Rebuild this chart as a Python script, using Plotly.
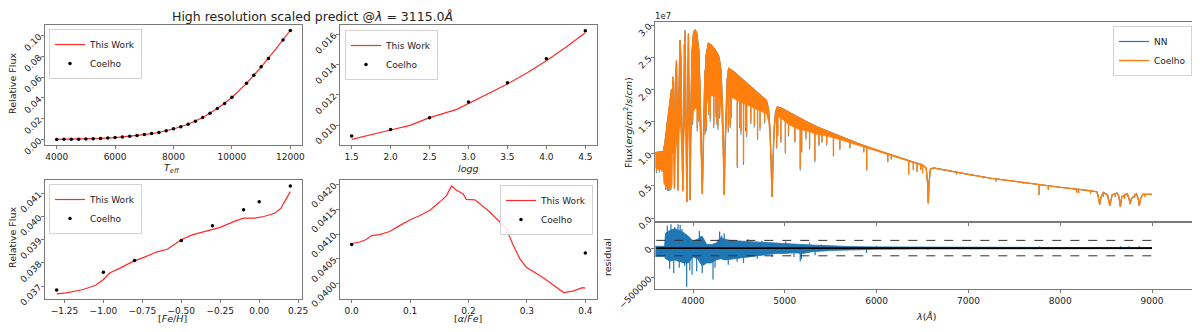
import plotly.graph_objects as go

W, H = 1200, 332
OFF = 8                      # page body margin in front of the plot div
FIG_W, FIG_H = W - OFF, H - OFF
FONT = "DejaVu Sans"
SPINE = "#7a7a7a"
TXT = "#222222"
RED = "#ff2a2a"
BLUE = "#1f77b4"
ORANGE = "#ff7f0e"

# ---------------------------------------------------------------------------
# Left panels: flux at 3115 A against each stellar parameter
# ---------------------------------------------------------------------------
teff_grid = [4000, 4250, 4500, 4750, 5000, 5250, 5500, 5750, 6000, 6250, 6500,
             6750, 7000, 7250, 7500, 7750, 8000, 8250, 8500, 8750, 9000, 9250,
             9500, 9750, 10000, 10500, 10750, 11000, 11250, 11750, 12000]
teff_coelho = [0.0001, 0.0002, 0.0003, 0.0004, 0.0006, 0.0008, 0.0011, 0.0015,
               0.0019, 0.0025, 0.0032, 0.0040, 0.0048, 0.0058, 0.0068, 0.0084,
               0.0103, 0.0123, 0.0148, 0.0177, 0.0213, 0.0252, 0.0300, 0.0348,
               0.0406, 0.0542, 0.0619, 0.0700, 0.0780, 0.0958, 0.1050]
teff_line_x = [4000, 4500, 5000, 5500, 6000, 6500, 7000, 7500, 8000, 8500,
               9000, 9500, 10000, 10500, 11000, 11500, 12000]
teff_line_y = [0.0001, 0.0003, 0.0006, 0.0011, 0.0019, 0.0032, 0.0048, 0.0068,
               0.0102, 0.0147, 0.0212, 0.0298, 0.0405, 0.0540, 0.0698, 0.0870,
               0.1052]

logg_grid = [1.5, 2.0, 2.5, 3.0, 3.5, 4.0, 4.5]
logg_coelho = [0.00927, 0.00971, 0.01049, 0.01152, 0.01280, 0.01439, 0.01624]
logg_line_x = [1.5, 1.75, 2.0, 2.25, 2.5, 2.85, 3.0, 3.25, 3.5, 3.75, 4.0, 4.25, 4.5]
logg_line_y = [0.00905, 0.00938, 0.00967, 0.00998, 0.01049, 0.01104, 0.01143,
               0.01205, 0.01272, 0.01345, 0.01426, 0.01515, 0.01611]

feh_grid = [-1.3, -1.0, -0.8, -0.5, -0.3, -0.1, 0.0, 0.2]
feh_coelho = [0.03684, 0.03760, 0.03811, 0.03897, 0.03960, 0.04029, 0.04063, 0.04131]
feh_line_x = [-1.3, -1.24, -1.13, -1.05, -1.0, -0.96, -0.89, -0.81, -0.74, -0.66,
              -0.59, -0.5, -0.43, -0.38, -0.29, -0.25, -0.16, -0.1, -0.03, 0.03,
              0.1, 0.14, 0.2]
feh_line_y = [0.03667, 0.03671, 0.03686, 0.03704, 0.03729, 0.03757, 0.03779,
              0.03807, 0.03824, 0.03847, 0.03859, 0.03900, 0.03921, 0.03929,
              0.03946, 0.03953, 0.03979, 0.03993, 0.03993, 0.04000, 0.04014,
              0.04036, 0.04107]

afe_grid = [0.0, 0.4]
afe_coelho = [0.04079, 0.04062]
afe_line_x = [0.0, 0.014, 0.025, 0.034, 0.048, 0.065, 0.082, 0.102, 0.116, 0.134,
              0.151, 0.162, 0.171, 0.179, 0.191, 0.196, 0.211, 0.236, 0.264,
              0.276, 0.288, 0.299, 0.328, 0.363, 0.379, 0.395, 0.4]
afe_line_y = [0.04081, 0.04084, 0.04089, 0.04097, 0.04099, 0.04105, 0.04117,
              0.04130, 0.04137, 0.04148, 0.04165, 0.04177, 0.04197, 0.04189,
              0.04181, 0.04170, 0.04169, 0.04145, 0.04112, 0.04079, 0.04050,
              0.04033, 0.04012, 0.03982, 0.03985, 0.03992, 0.03991]

# ---------------------------------------------------------------------------
# Right panel: spectrum (flux in units of 1e7 erg/cm^2/s/cm)
# spec_top = upper edge of the orange curve, spec_floor = bottom of the dense
# line forest (equal to spec_top where the forest is absent)
# ---------------------------------------------------------------------------
spec_wave = [3590, 3620, 3650, 3672, 3680, 3695, 3710, 3725, 3740, 3755, 3765,
             3771, 3779, 3788, 3798, 3808, 3820, 3828, 3835, 3842, 3850, 3858,
             3868, 3878, 3889, 3898, 3906, 3914, 3922, 3933, 3942, 3950, 3958,
             3968, 3978, 3990, 4005, 4022, 4040, 4060, 4075, 4088, 4101, 4114,
             4127, 4145, 4167, 4200, 4240, 4280, 4305, 4322, 4333, 4340, 4347,
             4358, 4372, 4390, 4450, 4520, 4600, 4680, 4760, 4800, 4822, 4838,
             4850, 4861, 4872, 4884, 4900, 4920, 4960, 5050, 5150, 5250, 5350,
             5450, 5600, 5800, 6000, 6200, 6400, 6500, 6540, 6555, 6563, 6571,
             6586, 6620, 6800, 7000, 7250, 7500, 7750, 8000, 8250, 8400, 8415,
             8430, 8445, 8470, 8515, 8540, 8565, 8620, 8640, 8655, 8670, 8730,
             8750, 8762, 8775, 8830, 8850, 8862, 8875, 8900, 9000]
spec_top = [1.02, 1.03, 1.03, 1.03, 1.06, 1.18, 1.35, 1.55, 1.72, 1.86, 2.00,
            1.40, 2.20, 2.00, 0.46, 2.10, 2.45, 1.60, 0.43, 1.60, 2.55, 2.77,
            2.50, 1.50, 0.42, 1.60, 2.70, 2.92, 1.80, 0.25, 1.90, 2.87, 1.80,
            0.28, 1.80, 2.60, 2.88, 2.93, 2.88, 2.65, 2.10, 1.30, 0.38, 1.30,
            2.10, 2.55, 2.72, 2.69, 2.62, 2.52, 2.30, 1.70, 1.00, 0.36, 1.00,
            1.70, 2.15, 2.33, 2.27, 2.18, 2.08, 1.98, 1.89, 1.83, 1.70, 1.40,
            0.90, 0.33, 0.90, 1.40, 1.66, 1.73, 1.71, 1.64, 1.57, 1.49, 1.42,
            1.36, 1.27, 1.16, 1.06, 0.96, 0.87, 0.83, 0.78, 0.55, 0.23, 0.55,
            0.76, 0.78, 0.73, 0.68, 0.62, 0.57, 0.52, 0.48, 0.44, 0.41, 0.33,
            0.21, 0.33, 0.40, 0.36, 0.19, 0.36, 0.39, 0.33, 0.18, 0.33, 0.38,
            0.30, 0.22, 0.30, 0.38, 0.30, 0.19, 0.30, 0.37, 0.37]
spec_floor = [0.78, 0.76, 0.76, 0.75, 0.55, 0.50, 0.47, 0.46, 0.46, 0.47, 0.80,
              0.50, 1.00, 1.00, 0.46, 1.10, 1.20, 1.00, 0.43, 1.00, 1.30, 1.45,
              1.30, 1.00, 0.42, 1.10, 1.50, 1.60, 1.20, 0.25, 1.10, 1.50, 1.10,
              0.28, 1.20, 1.50, 1.65, 1.70, 1.70, 1.60, 1.40, 1.00, 0.38, 1.00,
              1.50, 1.75, 1.85, 1.90, 1.90, 1.85, 1.70, 1.30, 0.90, 0.36, 0.90,
              1.40, 1.75, 1.90, 1.85, 1.80, 1.75, 1.70, 1.65, 1.62, 1.50, 1.30,
              0.85, 0.33, 0.85, 1.35, 1.55, 1.58, 1.55, 1.45, 1.38, 1.35, 1.30,
              1.28, 1.22, 1.13, 1.04, 0.95, 0.86, 0.83, 0.78, 0.55, 0.23, 0.55,
              0.76, 0.78, 0.73, 0.68, 0.62, 0.57, 0.52, 0.48, 0.44, 0.41, 0.33,
              0.21, 0.33, 0.40, 0.36, 0.19, 0.36, 0.39, 0.33, 0.18, 0.33, 0.38,
              0.30, 0.22, 0.30, 0.38, 0.30, 0.19, 0.30, 0.37, 0.37]

# individual narrow absorption lines: wavelength, local top, Coelho minimum, NN minimum
line_wave = [3602, 3633, 3661, 3702, 3720, 3734, 3750, 3760, 3860, 3905, 3996,
             4046, 4064, 4132, 4144, 4172, 4188, 4227, 4250, 4260, 4272, 4290,
             4384, 4405, 4416, 4482, 4508, 4523, 4550, 4572, 4584, 4630, 4668,
             4703, 4730, 4780, 4912, 4924, 4957, 5006, 5040, 5110, 5168, 5184,
             5230, 5270, 5328, 5372, 5405, 5456, 5530, 5600, 5710, 5860, 5892,
             6122, 6160, 6350, 6400, 6440, 6480, 6500, 6870, 7160, 7300, 7600,
             7770, 7870, 8180, 8200, 8330, 8470, 8600, 8700, 8810, 8920]
line_top = [1.03, 1.03, 1.03, 1.30, 1.50, 1.68, 1.82, 1.92, 2.75, 2.70, 2.75,
            2.85, 2.63, 2.30, 2.55, 2.72, 2.70, 2.64, 2.60, 2.58, 2.54, 2.45,
            2.30, 2.31, 2.30, 2.23, 2.20, 2.18, 2.14, 2.12, 2.10, 2.04, 2.00,
            1.95, 1.92, 1.86, 1.72, 1.73, 1.71, 1.68, 1.65, 1.60, 1.55, 1.54,
            1.51, 1.48, 1.44, 1.41, 1.39, 1.35, 1.31, 1.27, 1.22, 1.13, 1.11,
            1.00, 0.98, 0.89, 0.87, 0.85, 0.84, 0.83, 0.72, 0.65, 0.61, 0.56,
            0.52, 0.50, 0.45, 0.45, 0.43, 0.40, 0.38, 0.38, 0.37, 0.37]
line_bottom = [0.72, 0.73, 0.74, 0.47, 0.45, 0.45, 0.45, 0.47, 1.55, 1.45, 1.50,
               1.40, 1.55, 1.35, 1.40, 1.65, 1.55, 1.45, 1.62, 1.50, 1.42, 1.60,
               1.38, 1.45, 1.60, 0.82, 1.45, 1.35, 0.87, 1.40, 1.30, 1.50, 1.45,
               1.26, 1.40, 1.50, 1.11, 1.30, 1.20, 1.03, 1.30, 1.20, 0.77, 1.05,
               1.25, 1.10, 0.90, 1.15, 1.20, 1.15, 0.98, 1.08, 1.10, 1.03, 0.75,
               0.88, 0.92, 0.68, 0.75, 0.72, 0.75, 0.70, 0.68, 0.62, 0.57, 0.53,
               0.36, 0.44, 0.40, 0.39, 0.38, 0.33, 0.33, 0.30, 0.32, 0.33]
line_bottom_nn = [0.70, 0.71, 0.72, 0.44, 0.42, 0.42, 0.42, 0.44, 1.50, 1.40, 1.45,
                  1.35, 1.50, 1.30, 1.35, 1.60, 1.50, 1.40, 1.57, 1.45, 1.37, 1.55,
                  1.33, 1.40, 1.55, 0.78, 1.40, 1.30, 0.83, 1.35, 1.26, 1.46, 1.41,
                  1.22, 1.36, 1.47, 1.08, 1.27, 1.17, 1.00, 1.27, 1.17, 0.74, 1.02,
                  1.22, 1.07, 0.87, 1.12, 1.17, 1.13, 0.96, 1.06, 1.08, 1.02, 0.74,
                  0.87, 0.91, 0.68, 0.75, 0.72, 0.75, 0.70, 0.68, 0.62, 0.57, 0.53,
                  0.36, 0.44, 0.40, 0.39, 0.38, 0.33, 0.33, 0.30, 0.32, 0.33]

# residual (NN - Coelho): envelope of the dense noise band plus isolated spikes
res_wave = [3590, 3690, 3700, 3750, 3800, 3850, 3900, 3950, 4000, 4050, 4100,
            4150, 4200, 4250, 4300, 4350, 4400, 4500, 4600, 4700, 4800, 4900,
            5000, 5100, 5200, 5300, 5500, 5700, 6000, 6500, 7000, 8000, 9000]
res_hi = [30000, 30000, 250000, 300000, 330000, 300000, 260000, 200000, 120000,
          150000, 200000, 60000, 60000, 80000, 180000, 150000, 130000, 120000,
          110000, 100000, 90000, 80000, 80000, 70000, 60000, 50000, 40000, 25000,
          20000, 15000, 12000, 10000, 10000]
res_lo = [-140000, -140000, -180000, -220000, -200000, -230000, -250000, -250000,
          -150000, -180000, -300000, -250000, -250000, -200000, -180000, -200000,
          -190000, -170000, -150000, -130000, -100000, -90000, -90000, -80000,
          -90000, -60000, -40000, -30000, -20000, -15000, -12000, -10000, -10000]
spike_wave = [3720, 3760, 3800, 3837, 3860, 3880, 3745, 3790, 3850, 3910, 3931,
              3965, 3990, 4040, 4069, 4080, 4100, 4218, 4240, 4290, 4312, 4340,
              4384, 4480, 4550, 4600, 4700, 4750, 4860, 5010, 5100, 5168, 5180,
              5270, 5330, 5400, 5890, 6000, 6560, 7770, 8660, 8750, 8860]
spike_val = [380000, 400000, 350000, 400000, 390000, 320000, -350000, -420000,
             -330000, -300000, -650000, -380000, -450000, -390000, 290000, 200000,
             -420000, -530000, -330000, 280000, 210000, 250000, -280000, -230000,
             -250000, 150000, -180000, 120000, -150000, 110000, -150000, -225000,
             -190000, 90000, -120000, 60000, -82000, 40000, -30000, 25000, 30000,
             30000, 35000]
tol_wave = [3600, 9000]
tol_level = 130000


def px(x):
    return (x - OFF) / FIG_W


def py(y):
    return 1 - (y - OFF) / FIG_H


def axis_style(**kw):
    base = dict(
        showline=True, mirror=True, linecolor=SPINE, linewidth=1.2,
        ticks="outside", ticklen=3, tickwidth=1, tickcolor=SPINE,
        showgrid=False, zeroline=False, automargin=False,
        tickfont=dict(family=FONT, size=9, color=TXT),
    )
    base.update(kw)
    return base


def legend_box(x, y, xanchor="left"):
    return dict(
        x=x, y=y, xanchor=xanchor, yanchor="top", traceorder="normal",
        bgcolor="rgba(255,255,255,0.85)", bordercolor="#d3d3d3", borderwidth=1,
        font=dict(family=FONT, size=9, color=TXT),
        tracegroupgap=0, itemwidth=30,
    )


def segments(xs, tops, bottoms):
    sx, sy = [], []
    for x, t, b in zip(xs, tops, bottoms):
        sx += [x, x, None]
        sy += [t, b, None]
    return sx, sy


fig = go.Figure()

panels = [
    ("x", "y", "legend", teff_line_x, teff_line_y, teff_grid, teff_coelho),
    ("x2", "y2", "legend2", logg_line_x, logg_line_y, logg_grid, logg_coelho),
    ("x3", "y3", "legend3", feh_line_x, feh_line_y, feh_grid, feh_coelho),
    ("x4", "y4", "legend4", afe_line_x, afe_line_y, afe_grid, afe_coelho),
]
for xa, ya, lg, lx, ly, gx, gy in panels:
    fig.add_trace(go.Scatter(x=lx, y=ly, mode="lines", name="This Work",
                             line=dict(color=RED, width=1.2),
                             xaxis=xa, yaxis=ya, legend=lg))
    fig.add_trace(go.Scatter(x=gx, y=gy, mode="markers", name="Coelho",
                             marker=dict(color="black", size=3.5),
                             xaxis=xa, yaxis=ya, legend=lg))

# ── spectrum ────────────────────────────────────────────────────────────────
nn_sx, nn_sy = segments(line_wave, line_top, line_bottom_nn)
co_sx, co_sy = segments(line_wave, line_top, line_bottom)

fig.add_trace(go.Scatter(x=spec_wave, y=spec_top, mode="lines", name="NN",
                         line=dict(color=BLUE, width=1.2),
                         xaxis="x5", yaxis="y5", legend="legend5"))
fig.add_trace(go.Scatter(x=nn_sx, y=nn_sy, mode="lines", showlegend=False,
                         line=dict(color=BLUE, width=0.9),
                         xaxis="x5", yaxis="y5"))
fig.add_trace(go.Scatter(x=spec_wave, y=spec_floor, mode="lines", showlegend=False,
                         line=dict(color=ORANGE, width=0.5),
                         xaxis="x5", yaxis="y5"))
fig.add_trace(go.Scatter(x=spec_wave, y=spec_top, mode="lines", showlegend=False,
                         fill="tonexty", fillcolor=ORANGE,
                         line=dict(color=ORANGE, width=1.3),
                         xaxis="x5", yaxis="y5"))
fig.add_trace(go.Scatter(x=co_sx, y=co_sy, mode="lines", name="Coelho",
                         line=dict(color=ORANGE, width=1.4),
                         xaxis="x5", yaxis="y5", legend="legend5"))

# ── residual ────────────────────────────────────────────────────────────────
sp_sx, sp_sy = segments(spike_wave, [0] * len(spike_wave), spike_val)
fig.add_trace(go.Scatter(x=res_wave, y=res_lo, mode="lines", showlegend=False,
                         line=dict(color=BLUE, width=0.8),
                         xaxis="x6", yaxis="y6"))
fig.add_trace(go.Scatter(x=res_wave, y=res_hi, mode="lines", showlegend=False,
                         fill="tonexty", fillcolor=BLUE,
                         line=dict(color=BLUE, width=0.8),
                         xaxis="x6", yaxis="y6"))
fig.add_trace(go.Scatter(x=sp_sx, y=sp_sy, mode="lines", showlegend=False,
                         line=dict(color=BLUE, width=1.2),
                         xaxis="x6", yaxis="y6"))
fig.add_trace(go.Scatter(x=tol_wave, y=[0, 0], mode="lines", showlegend=False,
                         line=dict(color="black", width=1.6),
                         xaxis="x6", yaxis="y6"))
for sign in (1, -1):
    fig.add_trace(go.Scatter(x=tol_wave, y=[sign * tol_level] * 2, mode="lines",
                             showlegend=False,
                             line=dict(color="#333333", width=1, dash="dash"),
                             xaxis="x6", yaxis="y6"))

# ── layout ──────────────────────────────────────────────────────────────────
top_dom = [py(145), py(25)]
bot_dom = [py(299), py(180)]
left_dom = [px(45), px(302)]
mid_dom = [px(340), px(597)]
right_dom = [px(655), px(1197)]

fig.update_layout(
    width=FIG_W, height=FIG_H,
    margin=dict(l=0, r=0, t=0, b=0, autoexpand=False),
    paper_bgcolor="white", plot_bgcolor="white",
    font=dict(family=FONT, size=9, color=TXT),
    xaxis=axis_style(domain=left_dom, anchor="y", range=[3600, 12400],
                     tickvals=[4000, 6000, 8000, 10000, 12000], tickformat="d"),
    yaxis=axis_style(domain=top_dom, anchor="x", range=[-0.00525, 0.11025],
                     dtick=0.02, tick0=0, tickformat=".2f", tickangle=-45),
    xaxis2=axis_style(domain=mid_dom, anchor="y2", range=[1.35, 4.65],
                      dtick=0.5, tick0=1.5, tickformat=".1f"),
    yaxis2=axis_style(domain=top_dom, anchor="x2", range=[0.00868, 0.01662],
                      dtick=0.002, tick0=0.01, tickformat=".3f", tickangle=-45),
    xaxis3=axis_style(domain=left_dom, anchor="y3", range=[-1.375, 0.275],
                      dtick=0.25, tick0=0, tickformat=".2f"),
    yaxis3=axis_style(domain=bot_dom, anchor="x3", range=[0.03645, 0.04157],
                      dtick=0.001, tick0=0.037, tickformat=".3f", tickangle=-45),
    xaxis4=axis_style(domain=mid_dom, anchor="y4", range=[-0.02, 0.42],
                      dtick=0.1, tick0=0, tickformat=".1f"),
    yaxis4=axis_style(domain=bot_dom, anchor="x4", range=[0.03969, 0.04209],
                      dtick=0.0005, tick0=0.04, tickformat=".4f", tickangle=-45),
    xaxis5=axis_style(domain=right_dom, anchor="y5", range=[3586, 9490],
                      matches="x6", showticklabels=False, dtick=1000, tick0=0),
    yaxis5=axis_style(domain=[py(222), py(22)], anchor="x5", range=[-0.06, 3.05],
                      dtick=0.5, tick0=0, tickformat=".1f", tickangle=-45),
    xaxis6=axis_style(domain=right_dom, anchor="y6", range=[3586, 9490],
                      dtick=1000, tick0=0),
    yaxis6=axis_style(domain=[py(289), py(222)], anchor="x6",
                      range=[-690000, 440000], tickvals=[-500000, 0],
                      ticktext=["\u2212500000", "0"], tickangle=-45),
    legend=legend_box(px(49), py(29)),
    legend2=legend_box(px(345), py(30)),
    legend3=legend_box(px(49), py(184)),
    legend4=legend_box(px(593), py(185), xanchor="right"),
    legend5=legend_box(px(1192), py(26), xanchor="right"),
)

labels = [
    ("High resolution scaled predict @<i>\u03bb</i> = 3115.0<i>\u00c5</i>", 312, 16, 12.5, 0),
    ("Relative Flux", 13, 84, 9.5, -90),
    ("Relative Flux", 12, 238, 9.5, -90),
    ("<i>T</i><sub><i>eff</i></sub>", 172, 168, 9.5, 0),
    ("<i>logg</i>", 468, 168, 9.5, 0),
    ("[<i>Fe</i>/<i>H</i>]", 172, 318, 9.5, 0),
    ("[<i>\u03b1</i>/<i>Fe</i>]", 468, 318, 9.5, 0),
    ("Flux(<i>erg</i>/<i>cm</i><sup>2</sup>/<i>s</i>/<i>cm</i>)", 628, 123, 9.5, -90),
    ("residual", 607, 257, 9.5, -90),
    ("<i>\u03bb</i>(<i>\u00c5</i>)", 926, 316, 9.5, 0),
    ("1e7", 663, 16, 8.5, 0),
]
for text, x, y, size, angle in labels:
    fig.add_annotation(text=text, x=px(x), y=py(y), xref="paper", yref="paper",
                       showarrow=False, textangle=angle,
                       xanchor="center", yanchor="middle",
                       font=dict(family=FONT, size=size, color=TXT))

fig.write_html("out.html")
